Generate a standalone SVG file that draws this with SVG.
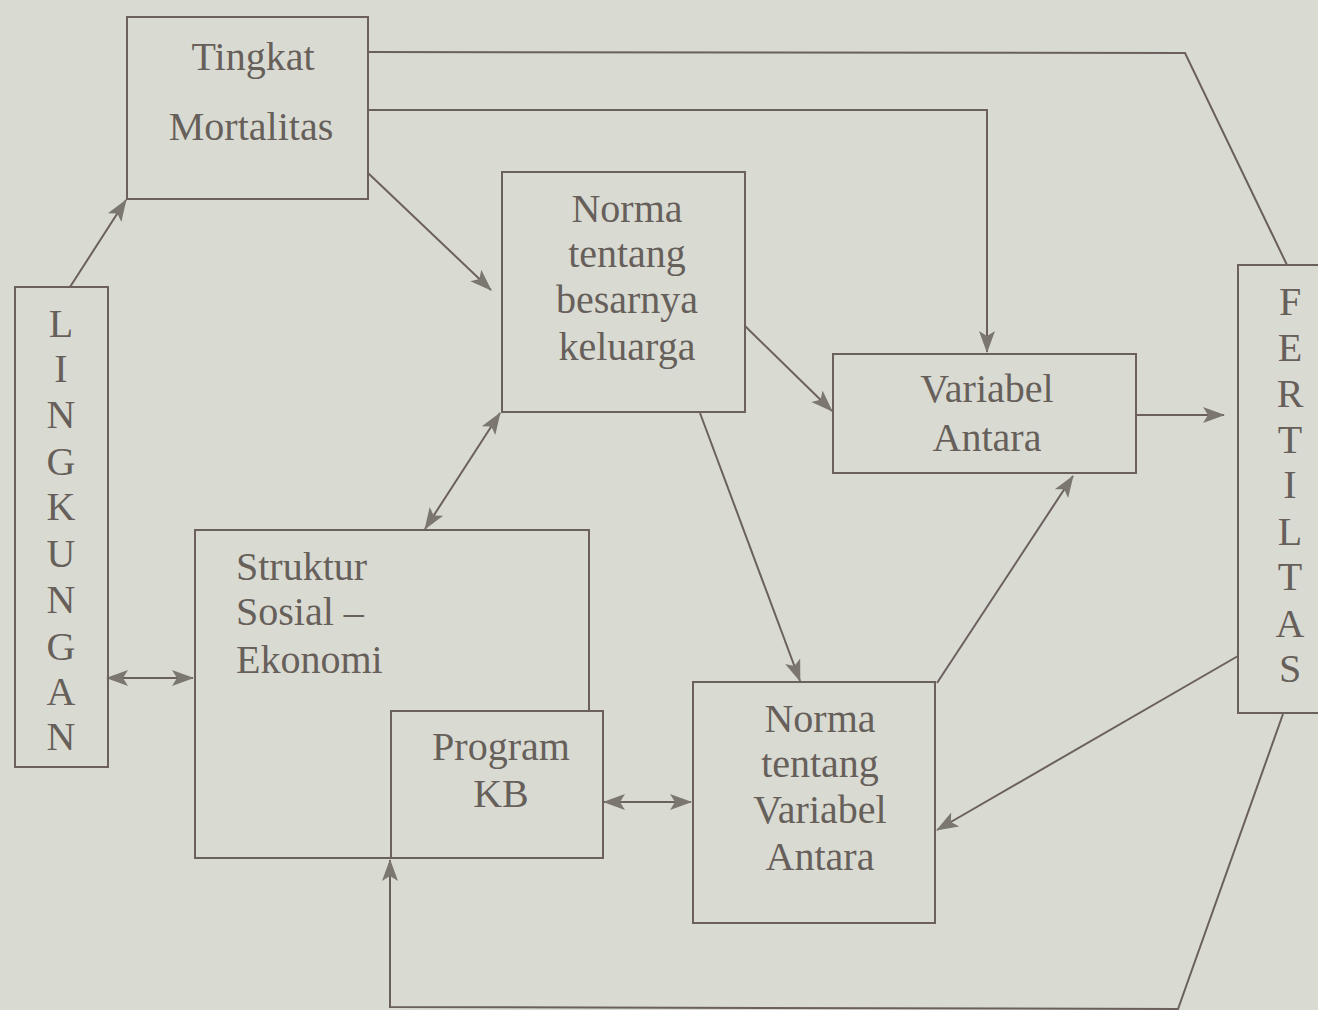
<svg xmlns="http://www.w3.org/2000/svg" width="1318" height="1010" viewBox="0 0 1318 1010">
<style>
.box{fill:none;stroke:#6b605c;stroke-width:2}
.boxf{fill:#d9dbd3;stroke:#6b605c;stroke-width:2}
.t{font-family:"Liberation Serif","Times New Roman",serif;font-size:40px;fill:#675f5a}
.c{text-anchor:middle}
.ln{fill:none;stroke:#6b605c;stroke-width:2}
</style>
<defs>
<marker id="ah" markerUnits="userSpaceOnUse" markerWidth="22" markerHeight="18" refX="21" refY="9" orient="auto-start-reverse" viewBox="0 0 22 18">
<path d="M0,1 L22,9 L0,17 L5,9 z" fill="#7b776e"/>
</marker>
</defs>
<rect x="0" y="0" width="1318" height="1010" fill="#d9dbd3"/>

<g id="connectors">
<path class="ln" d="M70,287 L126,200" marker-end="url(#ah)"/>
<path class="ln" d="M368,52 L1185,53 L1287,265"/>
<path class="ln" d="M368,110 L987,110 L987,352" marker-end="url(#ah)"/>
<path class="ln" d="M368,173 L491,290" marker-end="url(#ah)"/>
<path class="ln" d="M745,326 L832,411" marker-end="url(#ah)"/>
<path class="ln" d="M1136,415 L1224,415" marker-end="url(#ah)"/>
<path class="ln" d="M500,413 L425,529" marker-start="url(#ah)" marker-end="url(#ah)"/>
<path class="ln" d="M107,678 L193,678" marker-start="url(#ah)" marker-end="url(#ah)"/>
<path class="ln" d="M700,413 L800,681" marker-end="url(#ah)"/>
<path class="ln" d="M604,802 L691,802" marker-start="url(#ah)" marker-end="url(#ah)"/>
<path class="ln" d="M937,683 L1073,476" marker-end="url(#ah)"/>
<path class="ln" d="M1238,656 L937,830" marker-end="url(#ah)"/>
<path class="ln" d="M1283,714 L1178,1009 L390,1007 L390,860" marker-end="url(#ah)"/>
</g>

<g id="tingkat">
<rect class="box" x="127" y="17" width="241" height="182"/>
<text class="t c" x="253" y="70">Tingkat</text>
<text class="t c" x="251" y="140">Mortalitas</text>
</g>

<g id="norma-besar">
<rect class="box" x="502" y="172" width="243" height="240"/>
<text class="t c" x="627" y="222">Norma</text>
<text class="t c" x="627" y="267">tentang</text>
<text class="t c" x="627" y="313">besarnya</text>
<text class="t c" x="627" y="360">keluarga</text>
</g>

<g id="variabel">
<rect class="box" x="833" y="354" width="303" height="119"/>
<text class="t c" x="987" y="402">Variabel</text>
<text class="t c" x="987" y="451">Antara</text>
</g>

<g id="fertilitas">
<rect class="box" x="1238" y="265" width="100" height="448"/>
<text class="t c" x="1290" y="315">F</text>
<text class="t c" x="1290" y="361">E</text>
<text class="t c" x="1290" y="407">R</text>
<text class="t c" x="1290" y="453">T</text>
<text class="t c" x="1290" y="498">I</text>
<text class="t c" x="1290" y="545">L</text>
<text class="t c" x="1290" y="590">T</text>
<text class="t c" x="1290" y="637">A</text>
<text class="t c" x="1290" y="682">S</text>
</g>

<g id="lingkungan">
<rect class="box" x="15" y="287" width="93" height="480"/>
<text class="t c" x="61" y="337">L</text>
<text class="t c" x="61" y="382">I</text>
<text class="t c" x="61" y="428">N</text>
<text class="t c" x="61" y="475">G</text>
<text class="t c" x="61" y="520">K</text>
<text class="t c" x="61" y="567">U</text>
<text class="t c" x="61" y="613">N</text>
<text class="t c" x="61" y="660">G</text>
<text class="t c" x="61" y="705">A</text>
<text class="t c" x="61" y="750">N</text>
</g>

<g id="struktur">
<rect class="box" x="195" y="530" width="394" height="328"/>
<text class="t" x="236" y="580">Struktur</text>
<text class="t" x="236" y="625">Sosial –</text>
<text class="t" x="236" y="673">Ekonomi</text>
</g>

<g id="program-kb">
<rect class="boxf" x="391" y="711" width="212" height="147"/>
<text class="t c" x="501" y="760">Program</text>
<text class="t c" x="501" y="807">KB</text>
</g>

<g id="norma-variabel">
<rect class="box" x="693" y="682" width="242" height="241"/>
<text class="t c" x="820" y="732">Norma</text>
<text class="t c" x="820" y="777">tentang</text>
<text class="t c" x="820" y="823">Variabel</text>
<text class="t c" x="820" y="870">Antara</text>
</g>
</svg>
